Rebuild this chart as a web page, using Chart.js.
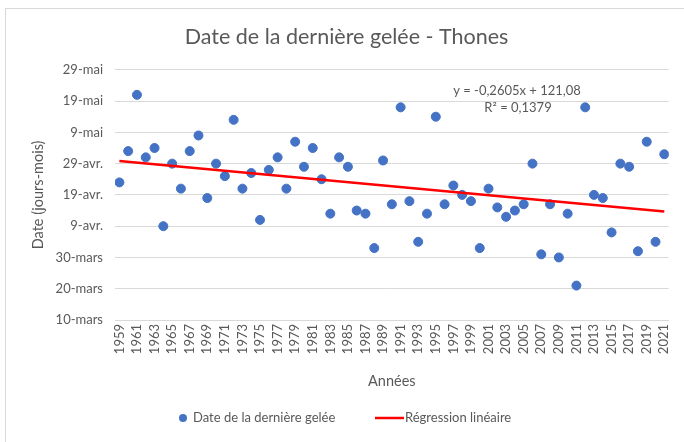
<!DOCTYPE html>
<html>
<head>
<meta charset="utf-8">
<script src="https://cdn.jsdelivr.net/npm/chart.js@4.4.0/dist/chart.umd.min.js"></script>
<style>
  html, body { margin: 0; padding: 0; background: #fff; }
  #wrap { width: 684px; height: 442px; position: relative; }
</style>
</head>
<body>
<div id="wrap"><canvas id="myChart" width="684" height="442"></canvas></div>
<script>
// années 1959 -> 2021
const years = [];
for (let y = 1959; y <= 2021; y++) years.push(y);

// date de la dernière gelée, en numéro de série Excel de l'année 1900 (10-mars = 70)
const frostDays = [
    114, 124, 142, 122, 125, 100, 120, 112, 124, 129,
    109, 120, 116, 134, 112, 117, 102, 118, 122, 112,
    127, 119, 125, 115, 104, 122, 119, 105, 104, 93,
    121, 107, 138, 108, 95, 104, 135, 107, 113, 110,
    108, 93, 112, 106, 103, 105, 107, 120, 91, 107,
    90, 104, 81, 138, 110, 109, 98, 120, 119, 92,
    127, 95, 123
];

const yTickValues = [70, 80, 90, 100, 110, 120, 130, 140, 150];
const yTickLabels = ['10-mars', '20-mars', '30-mars', '9-avr.', '19-avr.', '29-avr.', '9-mai', '19-mai', '29-mai'];

// courbe de tendance affichée : y = -0,2605x + 121,08 (x = rang de l'année)
const trendSlope = -0.2605;
const trendIntercept = 121.08;
const trendText = ['y = -0,2605x + 121,08', 'R² = 0,1379'];

const textColor = '#595959';
const fontFamily = 'Lato, "Open Sans", sans-serif';

function buildTrend() {
    const first = years[0];
    const last = years[years.length - 1];
    return [first, last].map(yr => ({
        x: yr,
        y: trendIntercept + trendSlope * (yr - first + 1),
    }));
}

// cadre, équation et légende façon Excel
const extras = {
    id: 'extras',
    beforeDraw(chart) {
        const ctx = chart.ctx;
        ctx.save();
        ctx.strokeStyle = '#d9d9d9';
        ctx.lineWidth = 1;
        ctx.strokeRect(5.5, 8.5, 700, 450);
        ctx.restore();
    },
    afterDatasetsDraw(chart) {
        const ctx = chart.ctx;
        const ds = chart.data.datasets;
        ctx.save();
        ctx.fillStyle = textColor;
        ctx.font = '13px ' + fontFamily;
        ctx.textAlign = 'center';
        ctx.textBaseline = 'middle';
        ctx.fillText(trendText[0], 517, 91);
        ctx.fillText(trendText[1], 518, 108);

        // légende
        const ly = 418;
        ctx.textAlign = 'left';
        ctx.fillStyle = ds[0].backgroundColor;
        ctx.beginPath();
        ctx.arc(183, ly, 4, 0, Math.PI * 2);
        ctx.fill();
        ctx.fillStyle = textColor;
        ctx.fillText(ds[0].label, 193, ly);

        ctx.strokeStyle = ds[1].borderColor;
        ctx.lineWidth = 2.5;
        ctx.beginPath();
        ctx.moveTo(375, ly);
        ctx.lineTo(404, ly);
        ctx.stroke();
        ctx.fillText(ds[1].label, 405, ly);
        ctx.restore();
    }
};

const ctx = document.getElementById('myChart').getContext('2d');
new Chart(ctx, {
    type: 'scatter',
    data: {
        datasets: [
            {
                label: 'Date de la dernière gelée',
                data: years.map((yr, i) => ({ x: yr, y: frostDays[i] })),
                backgroundColor: '#4472c4',
                borderColor: '#4472c4',
                pointRadius: 4.5,
                pointHoverRadius: 4.5,
                order: 2,
            },
            {
                type: 'line',
                label: 'Régression linéaire',
                data: buildTrend(),
                borderColor: '#ff0000',
                backgroundColor: '#ff0000',
                borderWidth: 2.5,
                pointRadius: 0,
                order: 1,
            },
        ],
    },
    options: {
        responsive: false,
        animation: false,
        layout: { padding: { left: 21, right: 12, top: 24, bottom: 50 } },
        plugins: {
            title: {
                display: true,
                text: 'Date de la dernière gelée - Thones',
                color: textColor,
                font: { family: fontFamily, size: 21.5, weight: 'normal' },
                padding: { top: 0, bottom: 20 },
            },
            legend: { display: false },
            tooltip: { enabled: false },
        },
        scales: {
            x: {
                type: 'linear',
                min: 1958.5,
                max: 2021.5,
                afterBuildTicks(axis) {
                    axis.ticks = years.filter(y => (y - 1959) % 2 === 0).map(v => ({ value: v }));
                },
                afterFit(axis) {
                    axis.height = 72;
                },
                ticks: {
                    autoSkip: false,
                    maxRotation: 90,
                    minRotation: 90,
                    color: textColor,
                    font: { family: fontFamily, size: 13 },
                    padding: 4,
                    callback: v => String(v),
                },
                grid: { display: false, drawTicks: false },
                border: { display: true, color: '#d9d9d9' },
                title: {
                    display: true,
                    text: 'Années',
                    color: textColor,
                    font: { family: fontFamily, size: 14.5 },
                    padding: { top: 0, bottom: 2 },
                },
            },
            y: {
                min: 70,
                max: 150,
                afterBuildTicks(axis) {
                    axis.ticks = yTickValues.map(v => ({ value: v }));
                },
                afterFit(axis) {
                    axis.width = 94;
                },
                ticks: {
                    color: textColor,
                    font: { family: fontFamily, size: 13 },
                    padding: 12,
                    callback: v => yTickLabels[yTickValues.indexOf(v)],
                },
                grid: { color: '#d9d9d9', drawTicks: false },
                border: { display: false },
                title: {
                    display: true,
                    text: 'Date (jours-mois)',
                    color: textColor,
                    font: { family: fontFamily, size: 14.5 },
                    padding: { top: 9, bottom: 0 },
                },
            },
        },
    },
    plugins: [extras],
});
</script>
</body>
</html>
